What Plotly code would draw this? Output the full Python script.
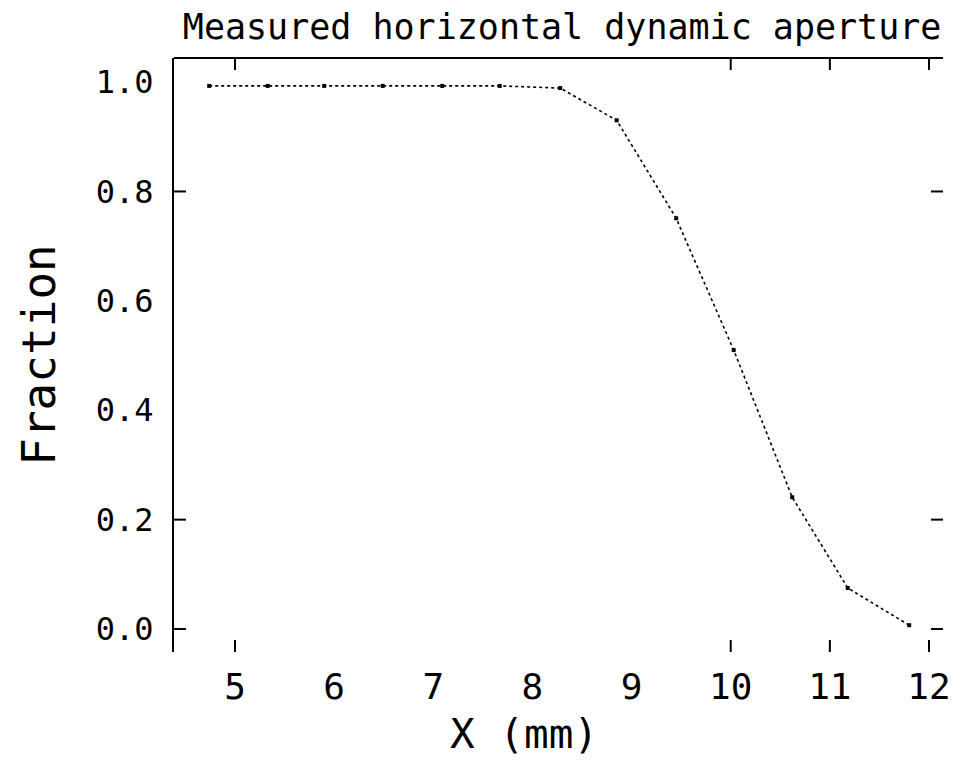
import plotly.graph_objects as go

# data
x_mm = [4.74, 5.33, 5.90, 6.49, 7.09, 7.67, 8.28, 8.85, 9.45, 10.03, 10.62, 11.18, 11.80]
fraction = [0.993, 0.993, 0.993, 0.993, 0.993, 0.993, 0.989, 0.930, 0.751, 0.510, 0.241, 0.075, 0.007]

x_ticks = [5, 6, 7, 8, 9, 10, 11, 12]
x_tick_text = ["5", "6", "7", "8", "9", "10", "11", "12"]
y_ticks = [0.0, 0.2, 0.4, 0.6, 0.8, 1.0]
y_tick_text = ["0.0", "0.2", "0.4", "0.6", "0.8", "1.0"]
x_tick_marks = [5, 10, 11, 12]
y_tick_marks = [0.0, 0.2, 0.8]

FONT = "DejaVu Sans Mono"
TICKLEN = 12

fig = go.Figure()
fig.add_trace(go.Scatter(
    x=x_mm, y=fraction, mode="lines+markers",
    line=dict(color="black", width=1.6, dash="dot"),
    marker=dict(symbol="square", size=4, color="black"),
    showlegend=False,
))

shapes = []
# top frame line
shapes.append(dict(type="line", xref="paper", yref="paper", x0=0, x1=1, y0=1, y1=1,
                   line=dict(color="black", width=2)))
for v in x_tick_marks:
    shapes.append(dict(type="line", xref="x", yref="paper", ysizemode="pixel", yanchor=0,
                       x0=v, x1=v, y0=0, y1=TICKLEN, line=dict(color="black", width=2)))
    shapes.append(dict(type="line", xref="x", yref="paper", ysizemode="pixel", yanchor=1,
                       x0=v, x1=v, y0=0, y1=-TICKLEN, line=dict(color="black", width=2)))
for v in y_tick_marks:
    shapes.append(dict(type="line", xref="paper", yref="y", xsizemode="pixel", xanchor=0,
                       x0=0, x1=TICKLEN, y0=v, y1=v, line=dict(color="black", width=2)))
    shapes.append(dict(type="line", xref="paper", yref="y", xsizemode="pixel", xanchor=1,
                       x0=0, x1=-TICKLEN, y0=v, y1=v, line=dict(color="black", width=2)))

fig.update_layout(
    width=965, height=779,
    margin=dict(l=174, r=22, t=58, b=127),
    paper_bgcolor="white", plot_bgcolor="white",
    font=dict(family=FONT, color="black"),
    title=dict(text="Measured horizontal dynamic aperture", x=0.5825, xanchor="center",
               y=0.966, yanchor="middle", font=dict(family=FONT, size=35, color="black")),
    xaxis=dict(range=[4.385, 12.141], tickvals=x_ticks, ticktext=x_tick_text,
               ticks="", showline=False, showgrid=False, zeroline=False,
               tickfont=dict(family=FONT, size=36), ticklabelstandoff=10),
    yaxis=dict(range=[-0.042, 1.044], tickvals=y_ticks, ticktext=y_tick_text,
               ticks="", showline=True, linewidth=2, linecolor="black",
               showgrid=False, zeroline=False,
               tickfont=dict(family=FONT, size=32), ticklabelstandoff=12,
               title=dict(text="Fraction", font=dict(family=FONT, size=46), standoff=26)),
    shapes=shapes,
    annotations=[dict(text="X (mm)", xref="paper", yref="paper", x=0.455, y=0,
                      xanchor="center", yanchor="middle", yshift=-82, showarrow=False,
                      font=dict(family=FONT, size=41, color="black"))],
)

fig.write_html("out.html")
